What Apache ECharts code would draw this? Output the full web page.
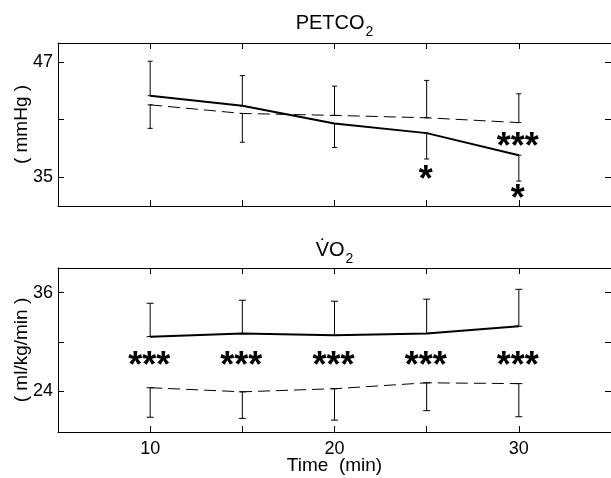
<!DOCTYPE html>
<html>
<head>
<meta charset="utf-8">
<script src="https://cdn.jsdelivr.net/npm/echarts@6/dist/echarts.min.js"></script>
<style>
html,body{margin:0;padding:0;background:#fff;}
#chart{width:611px;height:478px;}
</style>
</head>
<body>
<div id="chart"></div>
<script>
// ---- data ----
const times = [10, 15, 20, 25, 30];
const xTicks = [10, 15, 20, 25, 30];
const xTickLabels = [10, 20, 30];

const petco2Ticks = [35, 41, 47];
const petco2TickLabels = [35, 47];
const petco2Solid = [43.5, 42.45, 40.6, 39.6, 37.3];
const petco2SolidSD = [3.6, 3.15, 2.5, 2.7, 2.7];
const petco2SolidSide = [1, 1, -1, -1, -1];
const petco2Dashed = [42.55, 41.65, 41.45, 41.2, 40.7];
const petco2DashedSD = [2.45, 3.0, 3.05, 3.9, 3.0];
const petco2DashedSide = [-1, -1, 1, 1, 1];
const petco2MarkX = [25, 30, 30];
const petco2MarkY = [35.4, 38.9, 33.45];
const petco2MarkText = ['*', '***', '*'];

const vo2Ticks = [24, 30, 36];
const vo2TickLabels = [24, 36];
const vo2Solid = [30.63, 31.0, 30.8, 31.0, 31.9];
const vo2SolidSD = [4.07, 4.07, 4.15, 4.2, 4.5];
const vo2SolidSide = [1, 1, 1, 1, 1];
const vo2Dashed = [24.4, 23.9, 24.28, 25.0, 24.9];
const vo2DashedSD = [3.6, 3.24, 3.83, 3.4, 4.04];
const vo2DashedSide = [-1, -1, -1, -1, -1];
const vo2MarkX = [10, 15, 20, 25, 30];
const vo2MarkY = [27.9, 27.9, 27.9, 27.9, 27.9];
const vo2MarkText = ['***', '***', '***', '***', '***'];

// ---- styling helpers ----
const FONT = 'Liberation Sans';
const axisLine = { show: true, onZero: false, lineStyle: { color: '#000', width: 1 } };
const tickStyle = (vals) => ({ show: true, inside: true, length: 6, customValues: vals, lineStyle: { color: '#000', width: 1 } });

function xAxes(gridIndex, showLabels, topName, bottomName) {
  return [
    {
      type: 'value', gridIndex, position: 'bottom', min: 5, max: 35,
      axisLine, axisTick: tickStyle(xTicks), splitLine: { show: false },
      axisLabel: { show: showLabels, customValues: xTickLabels, margin: 8, color: '#000', fontFamily: FONT, fontSize: 18 },
      name: bottomName || '', nameLocation: 'middle', nameGap: 24, nameMoveOverlap: false,
      nameTextStyle: { color: '#000', fontFamily: FONT, fontSize: 19 }
    },
    {
      type: 'value', gridIndex, position: 'top', min: 5, max: 35,
      axisLine, axisTick: tickStyle(xTicks), splitLine: { show: false },
      axisLabel: { show: false },
      name: topName.text, nameLocation: 'middle', nameGap: topName.gap, nameMoveOverlap: false,
      nameTextStyle: {
        color: '#000', fontFamily: FONT,
        rich: {
          a: { fontFamily: FONT, fontSize: 20, color: '#000', lineHeight: 22, verticalAlign: 'top' },
          b: { fontFamily: FONT, fontSize: 14, color: '#000', lineHeight: 14, padding: [12, 0, 0, 1], verticalAlign: 'top' }
        }
      }
    }
  ];
}

function yAxes(gridIndex, min, max, ticks, labels, name) {
  return [
    {
      type: 'value', gridIndex, position: 'left', min, max,
      axisLine, axisTick: tickStyle(ticks), splitLine: { show: false },
      axisLabel: { show: true, customValues: labels, margin: 5, color: '#000', fontFamily: FONT, fontSize: 18 },
      name, nameLocation: 'middle', nameGap: 27, nameMoveOverlap: false,
      nameTextStyle: { color: '#000', fontFamily: FONT, fontSize: 19 }
    },
    {
      type: 'value', gridIndex, position: 'right', min, max,
      axisLine, axisTick: tickStyle(ticks), splitLine: { show: false },
      axisLabel: { show: false }
    }
  ];
}

function errorSeries(xi, yi, vals, sds, sides, capW) {
  return {
    type: 'custom', xAxisIndex: xi, yAxisIndex: yi, z: 2, silent: true,
    data: times.map((t, i) => [t, vals[i], sds[i] * sides[i]]),
    renderItem: function (params, api) {
      const x = api.value(0), y = api.value(1), e = api.value(2);
      const p0 = api.coord([x, y]);
      const p1 = api.coord([x, y + e]);
      const st = { stroke: '#000', lineWidth: 1 };
      return {
        type: 'group',
        children: [
          { type: 'line', shape: { x1: p0[0], y1: p0[1], x2: p1[0], y2: p1[1] }, style: st },
          { type: 'line', shape: { x1: p1[0] - capW / 2, y1: p1[1], x2: p1[0] + capW / 2, y2: p1[1] }, style: st },
          { type: 'line', shape: { x1: p0[0] - capW / 2, y1: p0[1], x2: p0[0] + capW / 2, y2: p0[1] }, style: st }
        ]
      };
    }
  };
}

function lineSeries(xi, yi, vals, dashed) {
  return {
    type: 'line', xAxisIndex: xi, yAxisIndex: yi, z: 3, silent: true,
    data: times.map((t, i) => [t, vals[i]]),
    symbol: 'none',
    lineStyle: dashed ? { color: '#000', width: 1, type: [12, 6] } : { color: '#000', width: 2 }
  };
}

function markSeries(xi, yi, xs, ys, texts) {
  return {
    type: 'custom', xAxisIndex: xi, yAxisIndex: yi, z: 4, silent: true,
    data: xs.map((x, i) => [x, ys[i], i]),
    renderItem: function (params, api) {
      const p = api.coord([api.value(0), api.value(1)]);
      const txt = texts[api.value(2)];
      return {
        type: 'text', x: p[0] - 1, y: p[1] + 8,
        style: { text: txt, fontFamily: FONT, fontWeight: 'bold', fontSize: 36, fill: '#000', align: 'center', verticalAlign: 'middle' }
      };
    }
  };
}

const option = {
  animation: false,
  backgroundColor: '#fff',
  grid: [
    { left: 58, top: 43, width: 556, height: 163 },
    { left: 58, top: 268, width: 556, height: 164 }
  ],
  xAxis: [
    ...xAxes(0, false, { text: '{a|PETCO}{b|2}', gap: 8 }),
    ...xAxes(1, true, { text: '{a|V\u0307O}{b|2}', gap: 6 }, 'Time  (min)')
  ],
  yAxis: [
    ...yAxes(0, 32, 49, petco2Ticks, petco2TickLabels, '( mmHg )'),
    ...yAxes(1, 19, 39, vo2Ticks, vo2TickLabels, '( ml/kg/min )')
  ],
  series: [
    errorSeries(0, 0, petco2Solid, petco2SolidSD, petco2SolidSide, 5),
    errorSeries(0, 0, petco2Dashed, petco2DashedSD, petco2DashedSide, 5),
    lineSeries(0, 0, petco2Solid, false),
    lineSeries(0, 0, petco2Dashed, true),
    markSeries(0, 0, petco2MarkX, petco2MarkY, petco2MarkText),
    errorSeries(2, 2, vo2Solid, vo2SolidSD, vo2SolidSide, 7),
    errorSeries(2, 2, vo2Dashed, vo2DashedSD, vo2DashedSide, 7),
    lineSeries(2, 2, vo2Solid, false),
    lineSeries(2, 2, vo2Dashed, true),
    markSeries(2, 2, vo2MarkX, vo2MarkY, vo2MarkText)
  ]
};

const chart = echarts.init(document.getElementById('chart'), null, { renderer: 'canvas' });
chart.setOption(option);
</script>
</body>
</html>
